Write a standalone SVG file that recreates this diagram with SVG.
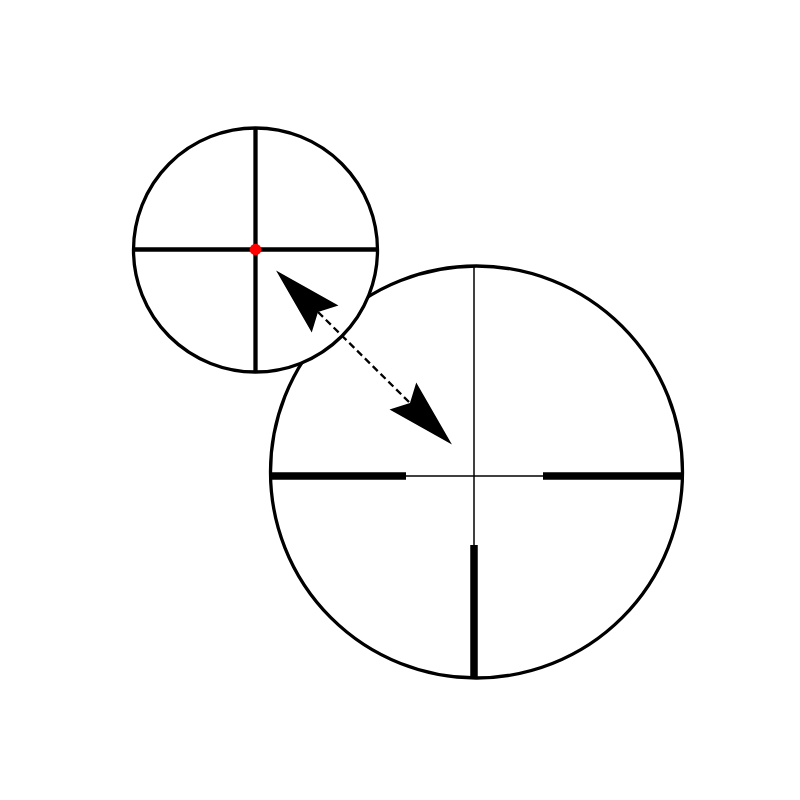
<svg xmlns="http://www.w3.org/2000/svg" width="800" height="800" viewBox="0 0 800 800">
  <style>
    .ring { fill: #fff; stroke: #000; stroke-width: 3.3; }
    .thin { stroke: #000; stroke-width: 1.5; fill: none; }
    .post { stroke: #000; stroke-width: 7.5; fill: none; }
    .cross { stroke: #000; stroke-width: 4.3; fill: none; }
    .link { stroke: #000; stroke-width: 2.3; stroke-dasharray: 7 4; fill: none; }
  </style>
  <defs>
    <marker id="head" markerUnits="userSpaceOnUse" markerWidth="70" markerHeight="40" viewBox="0 0 70 40" refX="10" refY="19" orient="auto-start-reverse" overflow="visible">
      <path d="M10,19 L0,0 L69,19 L0,38 Z" fill="#000"/>
    </marker>
  </defs>
  <rect width="800" height="800" fill="#fff"/>
  <g id="scope-large">
    <circle class="ring" cx="476.5" cy="472" r="206"/>
    <line class="thin" x1="474" y1="266" x2="474" y2="545"/>
    <line class="thin" x1="406" y1="476" x2="543" y2="476"/>
    <line class="post" x1="271" y1="476" x2="406" y2="476"/>
    <line class="post" x1="543" y1="476" x2="682" y2="476"/>
    <line class="post" x1="474" y1="545" x2="474" y2="677"/>
  </g>
  <g id="scope-small">
    <circle class="ring" cx="255.5" cy="250" r="122"/>
    <line class="cross" x1="134" y1="249.5" x2="377" y2="249.5"/>
    <line class="cross" x1="255.5" y1="128" x2="255.5" y2="372"/>
    <circle cx="255.5" cy="249.5" r="5.8" fill="#f00"/>
  </g>
  <g id="connectors">
    <line class="link" x1="318" y1="312" x2="410" y2="403" marker-start="url(#head)" marker-end="url(#head)"/>
  </g>
</svg>
